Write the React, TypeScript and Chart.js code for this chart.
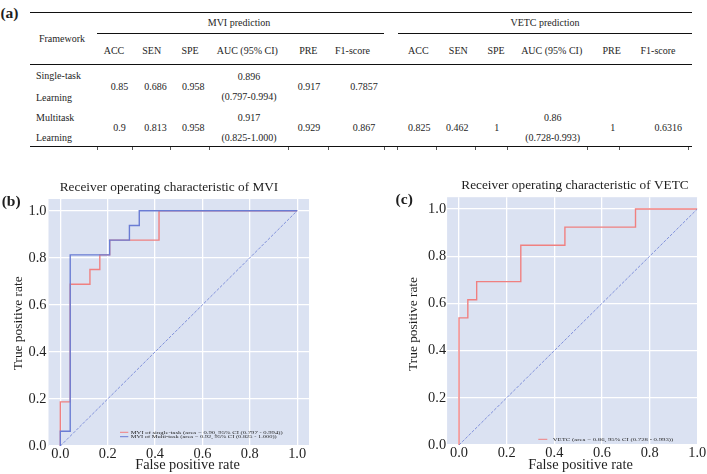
import React, { useEffect, useRef } from 'react';
import { Chart, registerables } from 'chart.js';

Chart.register(...registerables);

const FONT = "'Liberation Serif', 'Times New Roman', Times, serif";

// ---------- ROC data ----------
const AXIS_TICKS = [0, 0.2, 0.4, 0.6, 0.8, 1.0];

const MVI_SINGLE_FPR = [0, 0, 0.0417, 0.0417, 0.125, 0.125, 0.1667, 0.1667, 0.2083, 0.2083, 0.4167, 0.4167, 1];
const MVI_SINGLE_TPR = [0, 0.1875, 0.1875, 0.6875, 0.6875, 0.75, 0.75, 0.8125, 0.8125, 0.875, 0.875, 1, 1];
const MVI_MULTI_FPR = [0, 0, 0.0417, 0.0417, 0.2083, 0.2083, 0.2917, 0.2917, 0.3333, 0.3333, 1];
const MVI_MULTI_TPR = [0, 0.0625, 0.0625, 0.8125, 0.8125, 0.875, 0.875, 0.9375, 0.9375, 1, 1];
const VETC_FPR = [0, 0, 0.037, 0.037, 0.0741, 0.0741, 0.2593, 0.2593, 0.4444, 0.4444, 0.7407, 0.7407, 1];
const VETC_TPR = [0, 0.5385, 0.5385, 0.6154, 0.6154, 0.6923, 0.6923, 0.8462, 0.8462, 0.9231, 0.9231, 1, 1];
const CHANCE_FPR = [0, 1];
const CHANCE_TPR = [0, 1];

const MVI_SINGLE_LABEL = 'MVI of single-task (area = 0.90, 95% CI (0.797 - 0.994))';
const MVI_MULTI_LABEL = 'MVI of Multi-task (area = 0.92, 95% CI (0.825 - 1.000))';
const VETC_LABEL = 'VETC (area = 0.86, 95% CI (0.728 - 0.993))';

// ---------- table data ----------
const MVI_TITLE = 'MVI prediction';
const VETC_TITLE = 'VETC prediction';
const METRICS = ['ACC', 'SEN', 'SPE', 'AUC (95% CI)', 'PRE', 'F1-score'];
const MVI_SINGLE = ['0.85', '0.686', '0.958', '0.896', '0.917', '0.7857'];
const MVI_SINGLE_CI = '(0.797-0.994)';
const MVI_MULTI = ['0.9', '0.813', '0.958', '0.917', '0.929', '0.867'];
const MVI_MULTI_CI = '(0.825-1.000)';
const VETC_MULTI = ['0.825', '0.462', '1', '0.86', '1', '0.6316'];
const VETC_MULTI_CI = '(0.728-0.993)';

const RED = 'rgb(240,128,128)';
const BLUE = 'rgb(106,124,212)';
const BG = 'rgb(219,226,242)';
const TXT = '#1e1e1e';

type Series = { x: number[]; y: number[]; color: string; width: number; dash?: number[]; order: number };
type LegendItem = { color: string; label: string; x0: number; x1: number; tx: number; tw: number; y: number };
type Spec = {
  series: Series[];
  xMax: number;
  padTop: number;
  padRight: number;
  yAxisW: number;
  xAxisH: number;
  yTickPad: number;
  title: string;
  titleX: number;
  titleY: number;
  xlabelX: number;
  xlabelY: number;
  ylabelX: number;
  ylabelY: number;
  legend: LegendItem[];
};

function rocConfig(spec: Spec): any {
  const tickFont = { family: FONT, size: 14.4 };
  const plugin = {
    id: 'rocDecor',
    beforeDraw(chart: any) {
      const { ctx, chartArea: a } = chart;
      ctx.save();
      ctx.fillStyle = BG;
      ctx.fillRect(a.left, a.top, a.right - a.left, a.bottom - a.top);
      ctx.restore();
    },
    afterDraw(chart: any) {
      const ctx = chart.ctx as CanvasRenderingContext2D;
      ctx.save();
      ctx.fillStyle = TXT;
      ctx.textAlign = 'center';
      ctx.textBaseline = 'middle';
      ctx.font = `13.3px ${FONT}`;
      ctx.fillText(spec.title, spec.titleX, spec.titleY);
      ctx.font = `14.4px ${FONT}`;
      ctx.fillText('False positive rate', spec.xlabelX, spec.xlabelY);
      ctx.save();
      ctx.translate(spec.ylabelX, spec.ylabelY);
      ctx.rotate(-Math.PI / 2);
      ctx.font = `13.4px ${FONT}`;
      ctx.fillText('True positive rate', 0, 0);
      ctx.restore();
      // legend
      for (const it of spec.legend) {
        ctx.strokeStyle = it.color;
        ctx.lineWidth = 1;
        ctx.beginPath();
        ctx.moveTo(it.x0, it.y);
        ctx.lineTo(it.x1, it.y);
        ctx.stroke();
        ctx.font = `5px ${FONT}`;
        ctx.textAlign = 'left';
        const w = ctx.measureText(it.label).width;
        ctx.save();
        ctx.translate(it.tx, it.y);
        ctx.scale(it.tw / w, 1);
        ctx.fillStyle = TXT;
        ctx.fillText(it.label, 0, 0.3);
        ctx.restore();
      }
      ctx.restore();
    },
  };
  const tickCb = (v: any) => Number(v).toFixed(1);
  return {
    type: 'scatter',
    data: {
      datasets: spec.series.map((s) => ({
        data: s.x.map((xv, i) => ({ x: xv, y: s.y[i] })),
        showLine: true,
        borderColor: s.color,
        backgroundColor: s.color,
        borderWidth: s.width,
        borderDash: s.dash || [],
        pointRadius: 0,
        tension: 0,
        order: s.order,
      })),
    },
    options: {
      responsive: false,
      animation: false,
      events: [],
      layout: { padding: { top: spec.padTop, right: spec.padRight, left: 0, bottom: 0 } },
      plugins: { legend: { display: false }, tooltip: { enabled: false }, title: { display: false } },
      scales: {
        x: {
          type: 'linear',
          min: -0.05,
          max: spec.xMax,
          afterBuildTicks: (s: any) => {
            s.ticks = AXIS_TICKS.map((v) => ({ value: v }));
          },
          afterFit: (s: any) => {
            s.height = spec.xAxisH;
          },
          ticks: { font: tickFont, color: TXT, padding: 0, callback: tickCb, maxRotation: 0, autoSkip: false },
          grid: { color: '#ffffff', lineWidth: 1.3, drawTicks: false },
          border: { display: false },
        },
        y: {
          type: 'linear',
          min: 0,
          max: 1.05,
          afterBuildTicks: (s: any) => {
            s.ticks = AXIS_TICKS.map((v) => ({ value: v }));
          },
          afterFit: (s: any) => {
            s.width = spec.yAxisW;
          },
          ticks: { font: tickFont, color: TXT, padding: spec.yTickPad, callback: tickCb, autoSkip: false },
          grid: { color: '#ffffff', lineWidth: 1.3, drawTicks: false },
          border: { display: false },
        },
      },
    },
    plugins: [plugin],
  };
}

function ChartCanvas({ left, top, width, height, spec }: { left: number; top: number; width: number; height: number; spec: Spec }) {
  const ref = useRef<HTMLCanvasElement>(null);
  useEffect(() => {
    const chart = new Chart(ref.current as HTMLCanvasElement, rocConfig(spec));
    return () => chart.destroy();
  }, []);
  return (
    <canvas
      ref={ref}
      width={width}
      height={height}
      style={{ position: 'absolute', left, top, width, height }}
    />
  );
}

function T({ x, y, children, size = 10, bold = false }: { x: number; y: number; children: any; size?: number; bold?: boolean }) {
  return (
    <div
      style={{
        position: 'absolute',
        left: x,
        top: y,
        transform: 'translate(-50%, -50%)',
        whiteSpace: 'nowrap',
        fontSize: size,
        lineHeight: 1,
        fontWeight: bold ? 700 : 400,
        color: TXT,
      }}
    >
      {children}
    </div>
  );
}

function Rule({ x0, x1, y, h = 1.6 }: { x0: number; x1: number; y: number; h?: number }) {
  return <div style={{ position: 'absolute', left: x0, top: y - h / 2, width: x1 - x0, height: h, background: '#111' }} />;
}

const MVI_HEAD_X = [114, 151.7, 190, 247.3, 308.3, 352.5];
const MVI_VAL_X = [119.5, 155.5, 193.3, 249, 309, 364];
const VETC_HEAD_X = [418.3, 458.3, 496, 551.7, 611.7, 658];
const VETC_VAL_X = [419.3, 457.3, 496.7, 552.7, 612.7, 668.3];
const BOTTOM_MARKS = [97, 132, 170, 209, 288, 328, 384, 397, 436, 475, 507, 587, 619, 688];

function Table() {
  const row = (vals: string[], ci: string, xs: number[], yTop: number, yMid: number, yBot: number) =>
    vals.map((v, i) =>
      i === 3 ? (
        <React.Fragment key={i}>
          <T x={xs[i]} y={yTop}>{v}</T>
          <T x={xs[i]} y={yBot}>{ci}</T>
        </React.Fragment>
      ) : (
        <T key={i} x={xs[i]} y={yMid}>{v}</T>
      )
    );
  return (
    <>
      <Rule x0={30} x1={692} y={12.7} />
      <T x={239} y={23.3}>{MVI_TITLE}</T>
      <T x={545} y={23.3}>{VETC_TITLE}</T>
      <Rule x0={97} x1={384} y={33.3} />
      <Rule x0={398} x1={692} y={33.3} />
      <T x={62} y={39.3}>Framework</T>
      {METRICS.map((m, i) => (
        <T key={'m' + i} x={MVI_HEAD_X[i]} y={50.7}>{m}</T>
      ))}
      {METRICS.map((m, i) => (
        <T key={'v' + i} x={VETC_HEAD_X[i]} y={50.7}>{m}</T>
      ))}
      <Rule x0={30} x1={692} y={64.3} />
      <div style={{ position: 'absolute', left: 36, top: 76, transform: 'translateY(-50%)', fontSize: 10, lineHeight: 1, color: TXT }}>Single-task</div>
      <div style={{ position: 'absolute', left: 36, top: 97.7, transform: 'translateY(-50%)', fontSize: 10, lineHeight: 1, color: TXT }}>Learning</div>
      <div style={{ position: 'absolute', left: 36, top: 118.3, transform: 'translateY(-50%)', fontSize: 10, lineHeight: 1, color: TXT }}>Multitask</div>
      <div style={{ position: 'absolute', left: 36, top: 138.3, transform: 'translateY(-50%)', fontSize: 10, lineHeight: 1, color: TXT }}>Learning</div>
      {row(MVI_SINGLE, MVI_SINGLE_CI, MVI_VAL_X, 77.3, 87.3, 97.3)}
      {row(MVI_MULTI, MVI_MULTI_CI, MVI_VAL_X, 118.3, 127.7, 137.7)}
      {row(VETC_MULTI, VETC_MULTI_CI, VETC_VAL_X, 118.3, 127.7, 137.7)}
      <Rule x0={30} x1={692} y={146.7} />
      {BOTTOM_MARKS.map((x, i) => (
        <div key={'b' + i} style={{ position: 'absolute', left: x, top: 147, width: 1, height: 2.5, background: '#555' }} />
      ))}
    </>
  );
}

const SPEC_B: Spec = {
  series: [
    { x: MVI_SINGLE_FPR, y: MVI_SINGLE_TPR, color: RED, width: 1.4, order: 3 },
    { x: MVI_MULTI_FPR, y: MVI_MULTI_TPR, color: BLUE, width: 1.4, order: 2 },
    { x: CHANCE_FPR, y: CHANCE_TPR, color: BLUE, width: 0.8, dash: [3, 1.5], order: 1 },
  ],
  xMax: 1.05,
  padTop: 39,
  padRight: 46,
  yAxisW: 48.5,
  xAxisH: 28,
  yTickPad: 2,
  title: 'Receiver operating characteristic of MVI',
  titleX: 169,
  titleY: 28,
  xlabelX: 187.5,
  xlabelY: 305,
  ylabelX: 18,
  ylabelY: 163.3,
  legend: [
    { color: RED, label: MVI_SINGLE_LABEL, x0: 120, x1: 128.3, tx: 130.7, tw: 152, y: 272.3 },
    { color: BLUE, label: MVI_MULTI_LABEL, x0: 120, x1: 128.3, tx: 130.7, tw: 146, y: 276.7 },
  ],
};

const SPEC_C: Spec = {
  series: [
    { x: VETC_FPR, y: VETC_TPR, color: RED, width: 1.4, order: 2 },
    { x: CHANCE_FPR, y: CHANCE_TPR, color: BLUE, width: 0.8, dash: [3, 1.5], order: 1 },
  ],
  xMax: 1.0,
  padTop: 37.2,
  padRight: 9.7,
  yAxisW: 57.1,
  xAxisH: 29,
  yTickPad: 1,
  title: 'Receiver operating characteristic of VETC',
  titleX: 185,
  titleY: 26,
  xlabelX: 190.5,
  xlabelY: 305,
  ylabelX: 23.3,
  ylabelY: 164,
  legend: [{ color: RED, label: VETC_LABEL, x0: 148.3, x1: 157.3, tx: 162.7, tw: 120.6, y: 279.3 }],
};

export default function App() {
  return (
    <div
      style={{
        position: 'fixed',
        left: 0,
        top: 0,
        width: 707,
        height: 474,
        background: '#fff',
        fontFamily: FONT,
        overflow: 'hidden',
      }}
    >
      <Table />
      <ChartCanvas left={0} top={160} width={355} height={314} spec={SPEC_B} />
      <ChartCanvas left={390} top={160} width={317} height={314} spec={SPEC_C} />
      <T x={9.5} y={12.5} size={15.5} bold>(a)</T>
      <T x={11.2} y={201} size={15.5} bold>(b)</T>
      <T x={404.2} y={199} size={15.5} bold>(c)</T>
    </div>
  );
}
